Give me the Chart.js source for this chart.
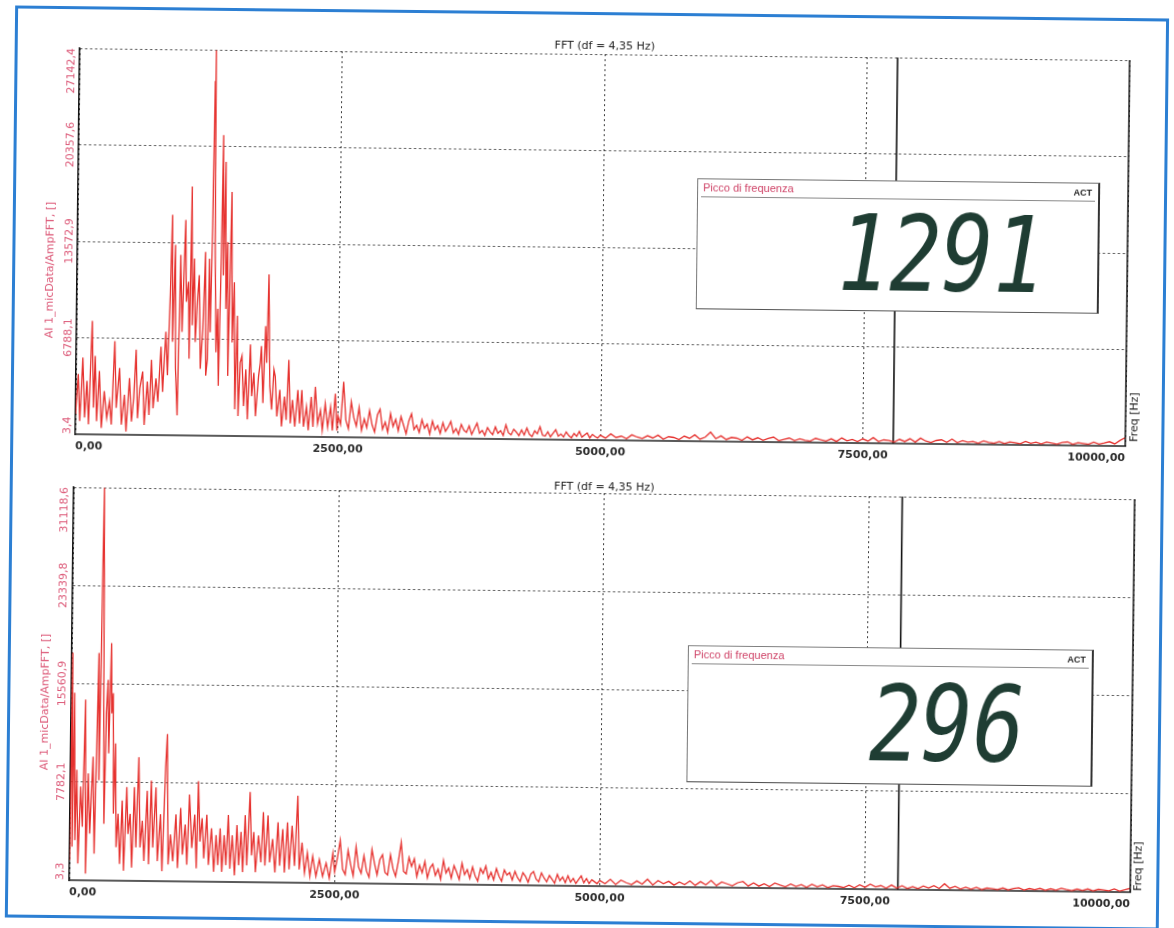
<!DOCTYPE html>
<html>
<head>
<meta charset="utf-8">
<script src="https://cdn.jsdelivr.net/npm/chart.js@4.4.1/dist/chart.umd.min.js"></script>
<style>
html, body { margin: 0; padding: 0; background: #fff; overflow: hidden; }
#page { position: relative; width: 1174px; height: 928px; transform: rotate(0.65deg); }
.frame { position: absolute; left: 10px; top: 12px; width: 1154px; height: 912px; box-sizing: border-box;
  border: 3px solid #2c7fd3; }
canvas { position: absolute; left: 0; }
.panel { position: absolute; background: #fff; box-sizing: border-box;
  border: 1px solid #777; border-right: 2px solid #333; border-bottom: 1px solid #555; }
.ph { position: relative; height: 17px; margin: 0 3px; border-bottom: 1px solid #8a8a8a; }
.pt { position: absolute; left: 2px; top: 2px; font: 11px "Liberation Sans", Arial, sans-serif; color: #cf4468; }
.act { position: absolute; right: 3px; top: 4px; font: bold 9px "Liberation Sans", Arial, sans-serif; color: #222; }
.digits { position: absolute; font: oblique 105px "DejaVu Sans Mono", monospace; line-height: 105px;
  color: #1f3d33; transform: scaleX(0.82); transform-origin: right center; }
</style>
</head>
<body>
<div id="page">
  <div class="frame"></div>
  <canvas id="fftTop" width="1174" height="464" style="top:0"></canvas>
  <canvas id="fftBottom" width="1174" height="464" style="top:464px"></canvas>
  <div class="panel" style="left:694px;top:177px;width:403px;height:131px">
    <div class="ph"><span class="pt">Picco di frequenza</span><span class="act">ACT</span></div>
    <div class="digits" id="peakTop" style="top:21px;right:52px"></div>
  </div>
  <div class="panel" style="left:690px;top:644px;width:406px;height:137px">
    <div class="ph"><span class="pt">Picco di frequenza</span><span class="act">ACT</span></div>
    <div class="digits" id="peakBottom" style="top:24px;right:66px"></div>
  </div>
</div>
<script>
// asse x comune
const xTicks = [0, 2500, 5000, 7500, 10000];
const cursorFreq = [7790, 7810];
const peakValues = ['1291', '296'];
const chartTitle = 'FFT (df = 4,35 Hz)';
const yTitle = 'AI 1_micData/AmpFFT, []';

// grafico sopra
const yTicksTop = [3.4, 6788.1, 13572.9, 20357.6, 27142.4];
const freqTop = [0, 22, 41, 64, 86, 105, 124, 150, 169, 182, 201, 223, 246, 271, 297, 322, 341, 367, 386, 415,
  437, 463, 482, 510, 533, 552, 571, 590, 609, 635, 654, 680, 699, 718, 737, 762, 782, 807, 826, 852,
  871, 890, 903, 916, 935, 947, 967, 986, 1005, 1030, 1043, 1062, 1075, 1088, 1101, 1117, 1132, 1148, 1164, 1183,
  1203, 1222, 1235, 1250, 1260, 1273, 1286, 1296, 1302, 1312, 1330, 1343, 1356, 1372, 1381, 1394, 1407, 1420, 1432, 1445,
  1467, 1483, 1499, 1515, 1531, 1547, 1563, 1579, 1598, 1617, 1636, 1659, 1675, 1694, 1713, 1739, 1754, 1764, 1783, 1802,
  1815, 1828, 1847, 1866, 1885, 1898, 1917, 1943, 1962, 1987, 2006, 2026, 2045, 2064, 2089, 2115, 2134, 2153, 2172, 2198,
  2217, 2243, 2262, 2281, 2306, 2332, 2351, 2377, 2402, 2428, 2447, 2472, 2491];
const ampTop = [1410, 4230, 940, 5405, 1175, 3760, 705, 7990, 1880, 5520, 940, 4465, 470, 3055, 1175, 2350, 705, 6580, 1880, 4700,
  705, 2820, 235, 3995, 940, 2585, 5990, 1175, 3290, 4465, 705, 3760, 1410, 5290, 1880, 3995, 2350, 6230, 3055, 7285,
  4230, 9870, 15510, 6580, 13395, 4700, 1410, 12690, 7285, 15160, 9400, 10810, 5405, 17510, 7755, 12455, 6580, 9400, 11280, 4700,
  7520, 12925, 4230, 5405, 12455, 7285, 14570, 24900, 27100, 13630, 5875, 8930, 3525, 12690, 21150, 11280, 19270, 8930, 13630, 4230,
  17155, 6580, 10810, 1880, 8460, 1410, 5170, 5640, 2115, 4700, 1175, 6460, 2820, 4465, 1410, 4230, 5170, 6345, 2350, 7755,
  5170, 11400, 3525, 1880, 4700, 4230, 1410, 3290, 705, 2820, 1175, 5405, 940, 2585, 705, 3290, 940, 3290, 705, 2115,
  470, 2820, 705, 3525, 940, 1880, 470, 2350, 705, 2115, 470, 3055, 470];
// 2500..4975 Hz, passo 25 Hz
const midTop = [1500, 900, 3900, 1200, 600, 2500, 1400, 800, 2100, 500,
  1300, 700, 1900, 900, 400, 1600, 2000, 600, 1100, 400,
  1700, 800, 1300, 500, 1500, 900, 300, 1200, 1700, 600,
  900, 400, 1300, 700, 1000, 300, 1200, 600, 900, 350,
  1100, 500, 800, 1200, 400, 700, 300, 1000, 600, 450,
  900, 300, 700, 1100, 400, 600, 250, 800, 500, 300,
  850, 400, 600, 250, 1000, 450, 300, 700, 500, 250,
  650, 300, 800, 350, 200, 600, 400, 900, 300, 250,
  550, 200, 450, 700, 250, 400, 200, 550, 300, 150,
  450, 250, 600, 200, 350, 500, 150, 400, 250, 150];
// 5000..10000 Hz, passo 50 Hz
const highTop = [350, 150, 450, 200, 300, 120, 400, 250, 150, 350,
  200, 400, 120, 300, 250, 100, 350, 200, 450, 150,
  300, 650, 200, 400, 150, 300, 250, 100, 350, 150,
  300, 120, 250, 350, 100, 200, 300, 120, 250, 150,
  100, 300, 200, 120, 280, 100, 350, 150, 250, 100,
  300, 150, 400, 120, 250, 200, 100, 300, 150, 350,
  120, 400, 200, 100, 250, 300, 120, 350, 100, 250,
  150, 200, 80, 250, 150, 100, 220, 80, 200, 150,
  80, 250, 120, 200, 90, 220, 150, 80, 200, 250,
  90, 200, 150, 100, 250, 120, 200, 300, 150, 400,
  600];

// grafico sotto
const yTicksBottom = [3.3, 7782.1, 15560.9, 23339.8, 31118.6];
const freqBottom = [0, 10, 22, 32, 48, 60, 79, 98, 117, 136, 152, 168, 187, 212, 231, 257, 269, 290, 298, 307,
  320, 333, 346, 358, 374, 384, 396, 409, 422, 437, 453, 472, 491, 510, 533, 548, 567, 586, 605, 624,
  644, 663, 682, 701, 726, 745, 764, 783, 808, 827, 853, 872, 897, 910, 929, 948, 973, 999, 1018, 1043,
  1062, 1087, 1106, 1125, 1151, 1176, 1195, 1208, 1227, 1246, 1265, 1290, 1309, 1335, 1360, 1379, 1398, 1417, 1436, 1455,
  1474, 1493, 1512, 1531, 1556, 1575, 1595, 1614, 1633, 1652, 1671, 1696, 1715, 1734, 1753, 1778, 1804, 1823, 1842, 1867,
  1886, 1912, 1937, 1962, 1981, 2007, 2026, 2051, 2070, 2095, 2121, 2146, 2165, 2190, 2216, 2241, 2267, 2292, 2324, 2355,
  2387, 2419, 2450, 2482];
const ampBottom = [1590, 18020, 2650, 14840, 3180, 8745, 1325, 7420, 4240, 14310, 530, 8480, 3710, 9805, 2120, 18020, 7950, 31100, 24645, 13780,
  4505, 13250, 15900, 10070, 18815, 13250, 14840, 5300, 10865, 2650, 5300, 1325, 6360, 795, 7420, 3710, 5300, 1060, 7420, 2650,
  9805, 2650, 4770, 1590, 7155, 1325, 7950, 2650, 7420, 1590, 5300, 795, 9010, 11660, 1325, 3710, 1590, 5300, 1060, 5830,
  2120, 4505, 1325, 6890, 2650, 5300, 1060, 7950, 3180, 5035, 1855, 5300, 1325, 4240, 795, 3710, 1325, 4240, 795, 3710,
  1325, 5300, 1060, 3710, 530, 4505, 1325, 3975, 795, 5300, 1325, 7155, 2120, 3975, 795, 3710, 1590, 5565, 1325, 5300,
  1590, 3445, 795, 4770, 1325, 4240, 795, 4770, 1060, 4505, 1325, 6890, 1060, 3180, 795, 2385, 530, 2120, 530, 1855,
  530, 1590, 400, 2385];
const midBottom = [900, 2000, 3400, 1100, 700, 2600, 1500, 600, 2900, 1300,
  800, 2200, 1000, 500, 2700, 1600, 700, 1900, 2300, 900,
  700, 2300, 1200, 600, 1800, 3300, 1000, 800, 2100, 1400,
  2000, 600, 1500, 900, 1800, 500, 1300, 1600, 700, 1200,
  400, 1900, 900, 1300, 500, 1500, 1000, 400, 1700, 800,
  1200, 500, 1400, 700, 300, 1300, 900, 1500, 500, 1000,
  400, 1300, 700, 300, 1200, 800, 1000, 400, 1100, 600,
  300, 1000, 700, 250, 900, 1100, 500, 300, 1000, 600,
  300, 800, 500, 200, 900, 400, 700, 250, 800, 300,
  600, 200, 500, 800, 250, 600, 200, 500, 350, 200];
const highBottom = [450, 200, 550, 150, 500, 300, 150, 450, 200, 600,
  150, 500, 250, 450, 150, 400, 200, 500, 150, 450,
  200, 550, 150, 450, 300, 150, 400, 500, 150, 400,
  150, 350, 120, 400, 250, 120, 350, 150, 300, 100,
  350, 150, 300, 100, 250, 200, 120, 300, 100, 350,
  150, 400, 200, 300, 100, 350, 120, 300, 100, 250,
  100, 300, 150, 350, 120, 500, 150, 300, 100, 250,
  100, 250, 80, 200, 150, 100, 220, 80, 200, 250,
  80, 200, 120, 220, 80, 200, 90, 250, 150, 80,
  200, 100, 220, 80, 200, 150, 100, 250, 80, 200,
  300];

const midFreq = midTop.map((_, i) => 2500 + i * 25);
const highFreq = highTop.map((_, i) => 5000 + i * 50);
const fmt = (v, d) => v.toFixed(d).replace('.', ',');

// testi ruotati, titolo e bordo destro
const sideText = {
    id: 'sideText',
    afterDraw(chart, args, o) {
        const { ctx, chartArea: a, scales: { y } } = chart;
        ctx.save();
        ctx.strokeStyle = '#151515';
        ctx.lineWidth = 1.5;
        ctx.beginPath();
        ctx.moveTo(a.right, a.top);
        ctx.lineTo(a.right, a.bottom);
        ctx.stroke();

        ctx.font = '11px "DejaVu Sans"';
        ctx.textBaseline = 'middle';
        ctx.textAlign = 'center';
        ctx.fillStyle = '#222';
        ctx.fillText(chartTitle, (a.left + a.right) / 2, a.top - o.titleGap);

        const vtext = (txt, x, yy, align) => {
            ctx.save();
            ctx.translate(x, yy);
            ctx.rotate(-Math.PI / 2);
            ctx.textAlign = align;
            ctx.fillText(txt, 0, 0);
            ctx.restore();
        };
        ctx.fillStyle = '#dc5877';
        y.ticks.forEach((t, i) => {
            const al = i === 0 ? 'left' : (i === y.ticks.length - 1 ? 'right' : 'center');
            vtext(fmt(t.value, 1), a.left - o.tickGap, y.getPixelForValue(t.value), al);
        });
        vtext(yTitle, o.yTitleX, o.yTitleY, 'center');
        ctx.fillStyle = '#222';
        vtext('Freq [Hz]', a.right + o.freqGap, o.freqY, 'center');
        ctx.restore();
    }
};

function createChart(id, freq, amp, mid, high, yTicks, cursor, cfg) {
    const points = freq.map((f, i) => ({ x: f, y: amp[i] }))
        .concat(mid.map((v, i) => ({ x: midFreq[i], y: v })))
        .concat(high.map((v, i) => ({ x: highFreq[i], y: v })));
    const gridLine = { color: '#3a3a3a', lineWidth: 1, drawTicks: false };
    new Chart(document.getElementById(id), {
        type: 'line',
        data: {
            datasets: [{
                data: points,
                borderColor: '#e6322f',
                borderWidth: 1.3,
                pointRadius: 0,
                tension: 0
            }, {
                data: [{ x: cursor, y: yTicks[0] }, { x: cursor, y: yTicks[yTicks.length - 1] }],
                borderColor: '#121212',
                borderWidth: 1.6,
                pointRadius: 0
            }]
        },
        options: {
            responsive: false,
            animation: false,
            layout: { padding: cfg.pad },
            plugins: {
                legend: { display: false },
                tooltip: { enabled: false },
                sideText: cfg.text
            },
            scales: {
                x: {
                    type: 'linear',
                    min: xTicks[0],
                    max: xTicks[xTicks.length - 1],
                    afterBuildTicks: s => { s.ticks = xTicks.map(v => ({ value: v })); },
                    afterFit: s => { s.height = 24; },
                    ticks: {
                        align: 'inner',
                        padding: 6,
                        maxRotation: 0,
                        color: '#2b2b2b',
                        font: { family: 'DejaVu Sans', size: 11, weight: 'bold' },
                        callback: v => fmt(v, 2)
                    },
                    grid: gridLine,
                    border: { color: '#5a5a5a', width: 2, dash: [2, 3] }
                },
                y: {
                    min: yTicks[0],
                    max: yTicks[yTicks.length - 1],
                    afterBuildTicks: s => { s.ticks = yTicks.map(v => ({ value: v })); },
                    afterFit: s => { s.width = cfg.yWidth; },
                    ticks: { display: false },
                    grid: gridLine,
                    border: { color: '#111', width: 1.5, dash: [2, 3] }
                }
            }
        },
        plugins: [sideText]
    });
}

window.onload = function() {
    document.getElementById('peakTop').textContent = peakValues[0];
    document.getElementById('peakBottom').textContent = peakValues[1];

    createChart('fftTop', freqTop, ampTop, midTop, highTop, yTicksTop, cursorFreq[0], {
        pad: { left: 0, top: 54, right: 49, bottom: 0 },
        yWidth: 75,
        text: { titleGap: 8, tickGap: 8, yTitleX: 48, yTitleY: 276, freqGap: 9, freqY: 411 }
    });
    createChart('fftBottom', freqBottom, ampBottom, midBottom, highBottom, yTicksBottom, cursorFreq[1], {
        pad: { left: 0, top: 29, right: 39, bottom: 18 },
        yWidth: 74,
        text: { titleGap: 6, tickGap: 9, yTitleX: 48, yTitleY: 244, freqGap: 8, freqY: 396 }
    });
};
</script>
</body>
</html>
